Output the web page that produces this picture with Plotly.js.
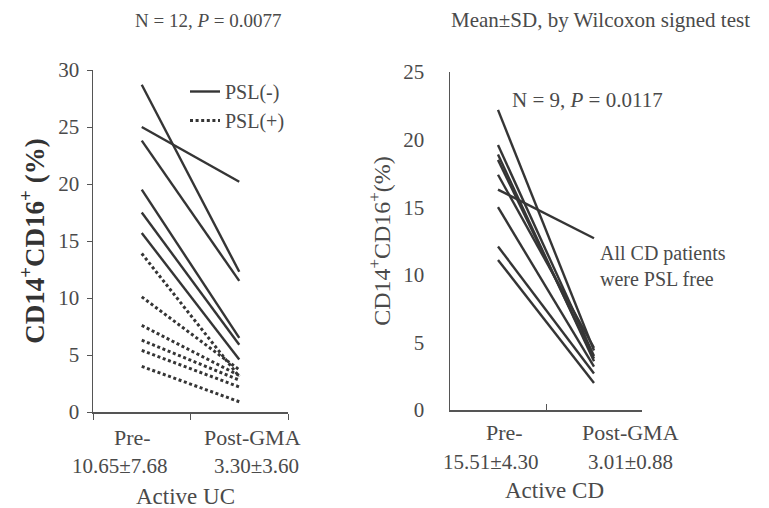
<!DOCTYPE html>
<html>
<head>
<meta charset="utf-8">
<script src="https://cdn.plot.ly/plotly-3.0.1.min.js"></script>
<style>html,body{margin:0;padding:0;background:#fff;}#chart{width:769px;height:508px;}</style>
</head>
<body>
<div id="chart"></div>
<script>
// ---- data ----
var stages = ["Pre-", "Post-GMA"];

// Active UC, PSL(-) patients (solid lines)
var ucSolidPre  = [28.7, 25.0, 23.8, 19.5, 17.5, 15.7];
var ucSolidPost = [12.3, 20.2, 11.5, 6.5, 5.9, 4.6];
// Active UC, PSL(+) patients (dotted lines)
var ucDotPre  = [13.9, 10.1, 7.6, 6.3, 5.4, 4.0];
var ucDotPost = [3.1, 3.7, 3.2, 2.8, 2.2, 0.9];

// Active CD patients (all PSL free)
var cdPre  = [22.2, 19.6, 18.9, 18.5, 17.4, 16.3, 15.0, 12.1, 11.1];
var cdPost = [4.4, 4.0, 3.6, 3.8, 4.6, 12.7, 3.2, 2.7, 2.0];

var ucStats = ["10.65\u00b17.68", "3.30\u00b13.60"];
var cdStats = ["15.51\u00b14.30", "3.01\u00b10.88"];
var ucTicks = [0, 5, 10, 15, 20, 25, 30];
var cdTicks = [0, 5, 10, 15, 20, 25];

// ---- drawing ----
var FONT = "'Liberation Serif', 'DejaVu Serif', serif";
var TXT = "#4a4a4a";
var LINE = "#353535";
var traces = [];

function addPairs(pre, post, xa, ya, dash, name) {
  for (var i = 0; i < pre.length; i++) {
    traces.push({
      type: "scatter", mode: "lines",
      x: stages, y: [pre[i], post[i]],
      xaxis: xa, yaxis: ya,
      line: {color: LINE, width: dash ? 3 : 2.4, dash: dash || "solid"},
      name: name, showlegend: !!name && i === 0,
      hoverinfo: "skip"
    });
  }
}
addPairs(ucSolidPre, ucSolidPost, "x", "y", null, "PSL(-)");
addPairs(ucDotPre, ucDotPost, "x", "y", "3px,2.6px", "PSL(+)");
addPairs(cdPre, cdPost, "x2", "y2", null, null);

var axisX = {
  type: "category", range: [-0.5, 1.5], tickson: "boundaries",
  showticklabels: false, ticks: "outside", ticklen: 6, tickcolor: "#555",
  showline: true, linecolor: "#555", linewidth: 1.5,
  showgrid: false, zeroline: false, fixedrange: true
};
var layout = {
  width: 769, height: 508,
  margin: {l: 0, r: 0, t: 0, b: 0},
  paper_bgcolor: "#fff", plot_bgcolor: "#fff",
  font: {family: FONT, color: TXT, size: 20},
  xaxis: Object.assign({}, axisX, {domain: [93/769, 288/769], anchor: "y"}),
  xaxis2: Object.assign({}, axisX, {domain: [450/769, 642/769], anchor: "y2", ticks: "inside"}),
  yaxis: {
    domain: [96/508, 438/508], range: [0, 30], anchor: "x",
    tickvals: ucTicks, ticks: "outside", ticklen: 5, tickcolor: "#555",
    ticklabelstandoff: 3,
    tickfont: {family: FONT, size: 21, color: TXT},
    showline: true, linecolor: "#555", linewidth: 1.5,
    showgrid: false, zeroline: false,
    title: {text: "<b>CD14<sup>+</sup>CD16<sup>+</sup> (%)</b>", font: {family: FONT, size: 27, color: "#333"}, standoff: 6}
  },
  yaxis2: {
    domain: [98/508, 436/508], range: [0, 25], anchor: "x2",
    tickvals: cdTicks, ticks: "", ticklabelstandoff: 20,
    tickfont: {family: FONT, size: 21, color: TXT},
    showline: true, linecolor: "#555", linewidth: 1.5,
    showgrid: false, zeroline: false,
    title: {text: "CD14<sup>+</sup>CD16<sup>+</sup>(%)", font: {family: FONT, size: 24, color: TXT}, standoff: 6}
  },
  showlegend: true,
  legend: {
    x: 185/769, y: 1 - 72/508, xanchor: "left", yanchor: "top",
    bgcolor: "rgba(0,0,0,0)", font: {family: FONT, size: 20, color: TXT},
    tracegroupgap: 0
  },
  annotations: []
};

function ann(text, xpx, ypx, size, opts) {
  var a = {
    text: text, xref: "paper", yref: "paper",
    x: xpx / 769, y: 1 - ypx / 508, xanchor: "center", yanchor: "middle",
    showarrow: false, font: {family: FONT, size: size, color: TXT}
  };
  return Object.assign(a, opts || {});
}
var A = layout.annotations;
A.push(ann("N = 12, <i>P</i> = 0.0077", 208, 20, 19));
A.push(ann("Mean\u00b1SD, by Wilcoxon signed test", 600, 20, 21));
A.push(ann("N = 9, <i>P</i> = 0.0117", 587, 100, 21));
A.push(ann("All CD patients<br>were PSL free", 598, 266, 20, {xanchor: "left", align: "left"}));
A.push(ann(stages[0], 132, 437, 22));
A.push(ann(stages[1], 252, 437, 22));
A.push(ann(ucStats[0], 120, 466, 21));
A.push(ann(ucStats[1], 256, 466, 21));
A.push(ann("Active UC", 185, 496, 23));
A.push(ann(stages[0], 504, 432, 22));
A.push(ann(stages[1], 630, 432, 22));
A.push(ann(cdStats[0], 491, 462, 21));
A.push(ann(cdStats[1], 630, 462, 21));
A.push(ann("Active CD", 554, 490, 23));

Plotly.newPlot("chart", traces, layout, {staticPlot: true, displayModeBar: false});
</script>
</body>
</html>
